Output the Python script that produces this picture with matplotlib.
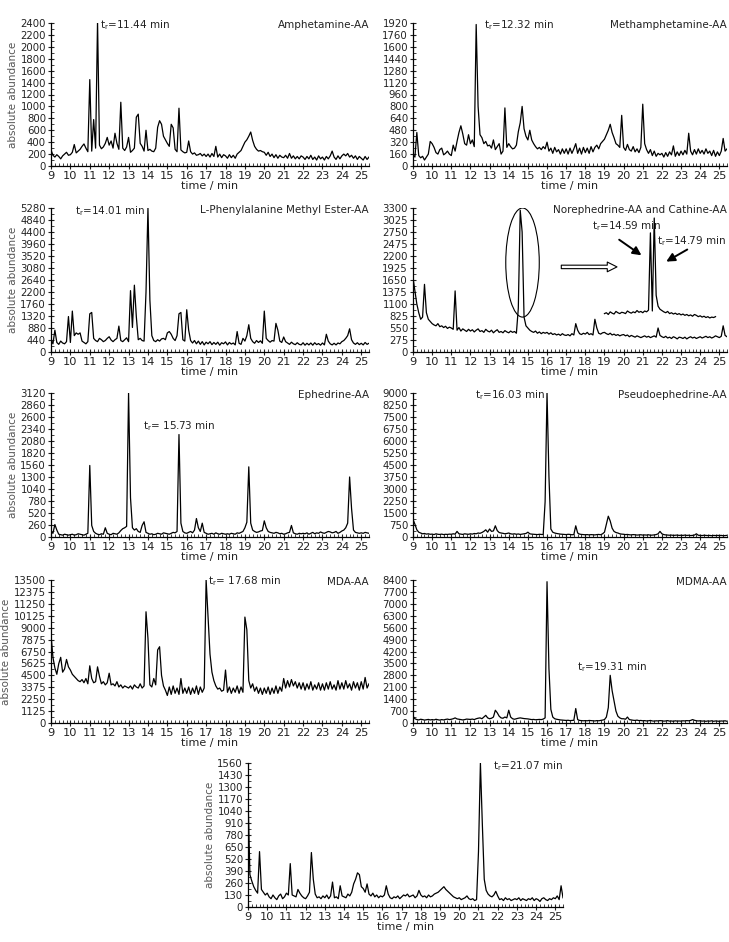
import numpy as np
import matplotlib
matplotlib.use("Agg")
import matplotlib.pyplot as plt
from matplotlib.patches import Ellipse
from matplotlib.ticker import MultipleLocator, AutoMinorLocator

plt.rcParams["font.family"] = ["DejaVu Sans"]

# ─── chromatogram data (abundance sampled every 0.1 min from 9.0 min) ───
AMPHETAMINE = [
    270, 180, 150, 190, 160, 120, 170, 200, 230, 180,
    190, 230, 360, 220, 250, 280, 330, 370, 300, 240,
    1450, 250, 780, 300, 2430, 350, 290, 320, 380, 480,
    350, 420, 300, 550, 380, 280, 1070, 300, 260, 320,
    480, 230, 260, 300, 820, 870, 380, 330, 250, 600,
    260, 280, 250, 240, 300, 650, 760, 700, 500, 440,
    380, 330, 700, 640, 280, 240, 970, 270, 240, 220,
    230, 420, 240, 200, 220, 180, 190, 210, 170, 200,
    160, 200, 150, 210, 160, 330, 150, 200, 140, 190,
    170, 130, 190, 140, 180, 130, 200, 230, 260, 330,
    400, 440, 500, 570, 430, 330, 280, 250, 260, 240,
    230, 180, 230, 160, 200, 140, 190, 130, 180, 150,
    140, 180, 130, 210, 130, 170, 120, 160, 120, 170,
    150, 110, 160, 120, 180, 110, 150, 100, 170, 120,
    150, 100, 160, 120, 170, 250, 150, 110, 170, 120,
    170, 200, 170, 210, 150, 180, 130, 170, 110, 160,
    130, 100, 160, 110, 150,
]
METHAMPHETAMINE = [
    150, 120, 450, 140, 110, 130, 80, 120, 160, 330,
    300, 250, 180, 160, 220, 240, 150, 170, 200, 160,
    140, 280, 200, 330, 450, 540, 430, 300, 280, 420,
    300, 350, 260, 1900, 800, 420, 380, 300, 330, 270,
    280, 240, 350, 220, 260, 300, 160, 200, 780, 250,
    300, 260, 230, 240, 280, 460, 580, 800, 500, 400,
    350, 480, 350, 300, 260, 230, 250, 220, 260, 230,
    320, 200, 240, 170, 250, 190, 220, 160, 230, 170,
    230, 160, 240, 170, 230, 300, 170, 240, 160, 250,
    180, 240, 170, 260, 190, 250, 280, 230, 300, 330,
    360, 420, 480, 560, 450, 380, 300, 280, 250, 680,
    250, 210, 290, 220, 200, 260, 190, 230, 180, 250,
    830, 300, 220, 170, 220, 140, 200, 130, 170, 150,
    170, 120, 180, 130, 190, 150, 270, 130, 190, 140,
    200, 150, 210, 160, 440, 200, 150, 220, 160, 230,
    170, 210, 160, 230, 170, 200, 140, 210, 130, 190,
    140, 200, 370, 200, 230,
]
PHENYLALANINE = [
    450, 300, 800, 350, 280, 400, 330, 300, 380, 1300,
    350, 1500, 600, 700, 650, 700, 400, 350, 300, 380,
    1400, 1450, 500, 420, 380, 500, 450, 380, 420, 500,
    560, 440, 380, 450, 500, 950, 420, 380, 450, 520,
    380, 2250, 900, 2450, 1300, 450, 500, 420, 400, 2200,
    5280, 1900, 600, 420, 380, 450, 400, 480, 500, 450,
    700, 750, 650, 500, 420, 600, 1400, 1450, 450, 400,
    1550, 800, 420, 330, 420, 300, 400, 280, 380, 260,
    360, 300, 380, 270, 350, 280, 360, 250, 340, 300,
    370, 260, 350, 290, 330, 260, 750, 320, 280, 500,
    400, 600, 1000, 500, 380, 320, 420, 350, 410, 320,
    1500, 500, 420, 360, 420, 400, 1050, 800, 400, 350,
    550, 380, 330, 280, 360, 300, 270, 340, 280, 260,
    340, 250, 320, 260, 330, 250, 340, 270, 310, 250,
    330, 260, 650, 400, 300, 260, 320, 260, 330, 300,
    380, 420, 500, 600, 850, 450, 330, 280, 340, 270,
    320, 260, 350, 280, 320,
]
NOREPHEDRINE = [
    1700, 1400, 1100, 900, 750, 800, 1550, 900, 750, 700,
    650, 620, 600, 650, 580, 600, 560, 590, 540, 570,
    550, 520, 1400, 500, 560, 480, 530, 500, 470, 520,
    480, 510, 460, 500, 530, 470, 490, 450, 520, 480,
    460, 500, 440, 480, 510, 450, 470, 440, 490, 460,
    440, 480, 450, 470, 430, 1000, 3250, 2750, 800, 600,
    550, 500, 470, 450, 480, 430, 460, 420, 450, 430,
    450, 410, 440, 400, 420, 390, 410, 380, 420, 390,
    380, 400, 370, 420, 390, 650, 500, 420, 400, 430,
    410, 450, 400, 420, 390, 750, 550, 430, 410, 440,
    450, 420, 400, 430, 390, 410, 380, 400, 370, 390,
    400, 370, 390, 350, 380, 360, 340, 370, 350, 330,
    350, 370, 340, 360, 330, 350, 370, 340, 550, 380,
    350, 330, 360, 320, 340, 310, 350, 330, 300, 340,
    330, 310, 340, 300, 330, 350, 320, 340, 310, 330,
    350, 320, 340, 360, 330, 350, 320, 340, 370, 350,
    330, 360, 600, 380, 350,
]
# magnified trace of the 14.4-15.0 min region, drawn from 19.0 min
NOREPHEDRINE_ZOOM = [
    880, 900, 860, 920, 890, 870, 930, 900, 880, 910,
    900, 880, 940, 910, 890, 920, 900, 950, 910, 930,
    900, 940, 920, 960, 2730, 940, 3070, 1300, 1050, 980,
    950, 920, 900, 930, 880, 900, 870, 890, 860, 880,
    850, 870, 840, 860, 830, 850, 820, 860, 840, 810,
    830, 800, 820, 790, 810, 780, 800, 790, 810,
]
EPHEDRINE = [
    120, 80, 270, 150, 60, 50, 40, 60, 50, 40,
    50, 60, 40, 50, 70, 60, 50, 40, 60, 80,
    1550, 250, 120, 80, 60, 50, 70, 60, 200, 80,
    60, 50, 80, 70, 60, 90, 140, 180, 200, 230,
    3120, 850, 200, 150, 180, 120, 100, 250, 330, 100,
    80, 60, 70, 50, 60, 80, 70, 60, 90, 80,
    70, 60, 80, 100, 90, 120, 2220, 300, 120, 90,
    80, 100, 120, 90, 150, 400, 200, 120, 300, 100,
    80, 60, 70, 80, 60, 90, 70, 60, 80, 70,
    60, 70, 60, 80, 70, 60, 90, 80, 100, 120,
    200, 320, 1520, 300, 150, 120, 100, 110, 130, 140,
    350, 200, 120, 100, 90, 80, 100, 90, 70, 80,
    60, 70, 90, 100, 250, 90, 70, 60, 80, 70,
    80, 70, 90, 60, 80, 100, 70, 90, 80, 110,
    90, 80, 100, 120, 110, 90, 100, 120, 80, 100,
    130, 150, 200, 300, 1300, 620, 150, 100, 90, 80,
    90, 80, 100, 90, 80,
]
PSEUDOEPHEDRINE = [
    1100, 800, 450, 300, 250, 200, 220, 180, 200, 170,
    180, 150, 200, 170, 160, 180, 150, 170, 160, 180,
    170, 200, 180, 350, 200, 180, 160, 200, 180, 170,
    200, 180, 220, 200, 250, 230, 280, 350, 450, 300,
    500, 350, 380, 700, 400, 280, 250, 230, 200, 220,
    250, 200, 180, 200, 170, 190, 160, 180, 200, 220,
    300, 200, 180, 170, 160, 150, 170, 160, 150, 2200,
    9000, 3800, 500, 300, 250, 220, 200, 180, 170, 160,
    150, 170, 160, 140, 150, 700, 250, 180, 160, 150,
    140, 150, 130, 150, 140, 130, 150, 160, 140, 200,
    300, 800, 1300, 1000, 550, 350, 280, 250, 200, 180,
    170, 150, 160, 140, 130, 150, 140, 120, 130, 140,
    120, 130, 120, 140, 110, 120, 130, 150, 200, 350,
    200, 150, 130, 120, 110, 120, 100, 110, 120, 100,
    110, 100, 120, 100, 110, 90, 100, 120, 200, 110,
    100, 90, 110, 100, 90, 100, 80, 100, 90, 100,
    90, 100, 80, 90, 100,
]
MDA = [
    8300, 6200, 5200, 4600, 5600, 6200, 4800, 5100, 6000, 5300,
    5000, 4600, 4400, 4200, 4000, 3900, 4100, 3800, 4200, 3700,
    5400, 4200, 3800, 3900, 5300, 4400, 3700, 3900, 3600, 3800,
    4700, 3600, 3700, 3500, 3900, 3400, 3600, 3300, 3500, 3400,
    3300, 3500, 3200, 3600, 3400, 3300, 3700, 3300, 3500, 10500,
    8000, 3600, 3400, 4200, 3600, 6900, 7200, 4500, 3500, 3100,
    2600, 3400, 2700, 3500, 2800, 3300, 2700, 4200, 2800, 3300,
    2800, 3400, 2700, 3300, 2800, 3500, 2700, 3400, 2900, 3300,
    13500, 10000, 6500, 4800, 4000, 3500, 3200, 3300, 3000, 3100,
    5000, 2900, 3400, 2800, 3300, 2900, 3500, 2800, 3400, 2900,
    10000, 8800, 4000, 3300, 3700, 3000, 3400, 2800, 3300, 2700,
    3300, 2800, 3400, 2700, 3300, 2800, 3500, 2800, 3400, 3000,
    4200, 3300, 4000, 3400, 4100, 3500, 3900, 3300, 3800, 3200,
    3800, 3100, 3700, 3200, 3900, 3100, 3600, 3200, 3800, 3100,
    3700, 3100, 3800, 3200, 3900, 3200, 3600, 3100, 4000, 3200,
    3800, 3200, 4000, 3300, 3700, 3100, 3900, 3300, 3800, 3100,
    3900, 3200, 4300, 3300, 3700,
]
MDMA = [
    400, 250, 200, 180, 220, 200, 170, 190, 210, 180,
    200, 180, 220, 190, 170, 200, 180, 210, 230, 200,
    220, 250, 300, 240, 220, 200, 180, 200, 230, 220,
    210, 230, 200, 250, 280, 300, 250, 350, 450, 300,
    250, 280, 350, 750, 600, 400, 300, 280, 350, 300,
    750, 350, 250, 220, 250, 280, 300, 280, 260, 250,
    240, 220, 200, 210, 190, 200, 210, 200, 230, 300,
    8300, 3200, 800, 350, 250, 220, 200, 180, 170, 160,
    150, 160, 140, 150, 160, 850, 200, 150, 140, 130,
    140, 130, 150, 140, 130, 120, 140, 130, 150, 170,
    200, 350, 900, 2800, 1900, 1300, 700, 400, 300, 250,
    250, 220, 350, 200, 180, 160, 150, 170, 140, 150,
    130, 140, 120, 130, 150, 120, 110, 130, 120, 140,
    130, 110, 120, 140, 110, 120, 100, 130, 110, 120,
    110, 130, 120, 140, 130, 150, 200, 160, 130, 120,
    130, 110, 120, 100, 120, 110, 130, 100, 120, 110,
    100, 120, 110, 130, 100,
]
UNKNOWN_2107 = [
    1200, 350, 280, 220, 180, 150, 600, 190, 160, 130,
    150, 110, 90, 130, 100, 80, 120, 140, 90, 110,
    150, 130, 470, 130, 120, 110, 190, 150, 120, 100,
    90, 120, 160, 590, 300, 140, 100, 110, 90, 120,
    100, 130, 90, 120, 270, 100, 110, 90, 230, 120,
    110, 100, 140, 120, 160, 250, 300, 370, 350, 220,
    200, 160, 250, 140, 120, 150, 110, 130, 100, 120,
    110, 130, 230, 140, 100, 90, 110, 100, 120, 90,
    110, 130, 120, 140, 110, 120, 130, 100, 120, 180,
    130, 110, 120, 100, 130, 110, 120, 140, 150, 160,
    180, 200, 220, 190, 170, 150, 130, 110, 100, 90,
    100, 80, 90, 100, 120, 90, 80, 90, 70, 80,
    600, 1560, 900, 300, 180, 140, 120, 110, 130, 170,
    120, 80, 90, 70, 100, 80, 90, 70, 80, 90,
    80, 100, 70, 90, 80, 70, 90, 80, 100, 70,
    90, 80, 60, 90, 100, 80, 70, 90, 80, 100,
    90, 120, 80, 230, 100,
]

TITLES = ["Amphetamine-AA", "Methamphetamine-AA", "L-Phenylalanine Methyl Ester-AA",
          "Norephedrine-AA and Cathine-AA", "Ephedrine-AA", "Pseudoephedrine-AA",
          "MDA-AA", "MDMA-AA", ""]
Y_MAX = [2400, 1920, 5280, 3300, 3120, 9000, 13500, 8400, 1560]
Y_STEP = [200, 160, 440, 275, 260, 750, 1125, 700, 130]
SERIES = [AMPHETAMINE, METHAMPHETAMINE, PHENYLALANINE, NOREPHEDRINE, EPHEDRINE,
          PSEUDOEPHEDRINE, MDA, MDMA, UNKNOWN_2107]

T0, DT = 9.0, 0.1
TXT = "#222222"

W, H = 729, 942
fig = plt.figure(figsize=(W / 100, H / 100), dpi=100)

# axes rectangles in pixels: left, right, top, bottom
boxes = [
    (51, 369, 23, 166), (413, 727, 23, 166),
    (51, 369, 208, 352), (413, 727, 208, 352),
    (51, 369, 393, 537), (413, 727, 393, 537),
    (51, 369, 580, 723), (413, 727, 580, 723),
    (248, 563, 763, 907),
]

axes = []
for i, (l, r, t, b) in enumerate(boxes):
    ax = fig.add_axes([l / W, 1 - b / H, (r - l) / W, (b - t) / H])
    y = np.array(SERIES[i], dtype=float)
    x = T0 + DT * np.arange(len(y))
    ax.plot(x, y, color="black", lw=0.9)
    ax.set_xlim(9, 25.4)
    ax.set_ylim(0, Y_MAX[i])
    ax.xaxis.set_major_locator(MultipleLocator(1))
    ax.xaxis.set_minor_locator(MultipleLocator(0.2))
    ax.yaxis.set_major_locator(MultipleLocator(Y_STEP[i]))
    ax.yaxis.set_minor_locator(AutoMinorLocator(2))
    for s in ("top", "right"):
        ax.spines[s].set_visible(False)
    for s in ("left", "bottom"):
        ax.spines[s].set_linewidth(0.9)
    ax.tick_params(which="major", direction="inout", length=5, width=0.8,
                   colors=TXT, pad=1)
    ax.tick_params(which="minor", direction="in", length=2.5, width=0.6, colors=TXT)
    ax.tick_params(axis="x", labelsize=8.2)
    ax.tick_params(axis="y", labelsize=7.3)
    ax.set_xlabel("time / min", fontsize=8, color=TXT, labelpad=0)
    if i % 2 == 0:
        ax.set_ylabel("absolute abundance", fontsize=7.5, color="#555555", labelpad=2)
    if TITLES[i]:
        ax.text(1.0, 0.985, TITLES[i], transform=ax.transAxes, ha="right",
                va="center", fontsize=7.5, color=TXT)
    axes.append(ax)

ann = dict(fontsize=7.5, color=TXT, va="center")
axes[0].text(11.53, 2360, "t$_\\mathregular{r}$=11.44 min", ha="left", **ann)
axes[1].text(12.7, 1890, "t$_\\mathregular{r}$=12.32 min", ha="left", **ann)
axes[2].text(10.24, 5170, "t$_\\mathregular{r}$=14.01 min", ha="left", **ann)
axes[4].text(13.74, 2405, "t$_\\mathregular{r}$= 15.73 min", ha="left", **ann)
axes[5].text(15.9, 8900, "t$_\\mathregular{r}$=16.03 min", ha="right", **ann)
axes[6].text(17.1, 13350, "t$_\\mathregular{r}$= 17.68 min", ha="left", **ann)
axes[7].text(17.56, 3290, "t$_\\mathregular{r}$=19.31 min", ha="left", **ann)
axes[8].text(25.4, 1530, "t$_\\mathregular{r}$=21.07 min", ha="right", **ann)

# Norephedrine / Cathine panel: circled region, hollow arrow, magnified trace
ax = axes[3]
zy = np.array(NOREPHEDRINE_ZOOM, dtype=float)
zx = 19.0 + DT * np.arange(len(zy))
ax.plot(zx, zy, color="black", lw=0.9)
ax.add_patch(Ellipse((14.72, 2050), 1.75, 2500, fill=False, ec="black", lw=0.8))
ax.annotate("", xy=(19.8, 1950), xytext=(16.6, 1950),
            arrowprops=dict(arrowstyle="simple,head_length=0.7,head_width=0.7,tail_width=0.25",
                            fc="white", ec="black", lw=0.8))
ax.text(18.35, 2880, "t$_\\mathregular{r}$=14.59 min", ha="left", **ann)
ax.text(25.35, 2540, "t$_\\mathregular{r}$=14.79 min", ha="right", **ann)
ax.annotate("", xy=(21.05, 2180), xytext=(19.65, 2610),
            arrowprops=dict(arrowstyle="-|>,head_length=0.5,head_width=0.25",
                            fc="black", ec="black", lw=1.4))
ax.annotate("", xy=(22.1, 2040), xytext=(23.45, 2380),
            arrowprops=dict(arrowstyle="-|>,head_length=0.5,head_width=0.25",
                            fc="black", ec="black", lw=1.4))

fig.savefig("out.png", dpi=100, facecolor="white")
